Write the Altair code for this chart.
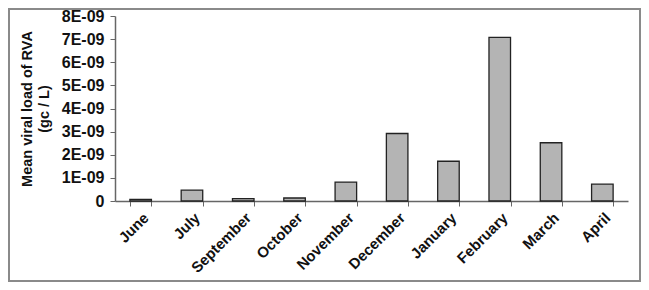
import altair as alt
import pandas as pd

months = ["June", "July", "September", "October", "November", "December",
          "January", "February", "March", "April"]
load_e9 = [0.07, 0.47, 0.10, 0.13, 0.82, 2.92, 1.72, 7.08, 2.52, 0.73]
y_ticks_e9 = [0, 1, 2, 3, 4, 5, 6, 7, 8]

df = pd.DataFrame({"month": months, "load": [v * 1e-9 for v in load_e9]})

FONT = "Liberation Sans"

bars = alt.Chart(df).mark_bar(
    fill="#b4b4b4", stroke="#222222", strokeWidth=1.3
).encode(
    x=alt.X("month:N", sort=months,
            scale=alt.Scale(paddingInner=0.58, paddingOuter=0.29),
            axis=alt.Axis(title=None, labelAngle=-45, labelAlign="right",
                          labelBaseline="top", labelFont=FONT, labelFontSize=15,
                          labelFontWeight="bold", labelColor="#111111",
                          tickBand="extent", tickSize=5, tickColor="#666666",
                          domainColor="#666666", domainWidth=1.5, labelPadding=4)),
    y=alt.Y("load:Q",
            scale=alt.Scale(domain=[0, 8e-9], nice=False),
            axis=alt.Axis(title=["Mean viral load of RVA", "(gc / L)"],
                          values=[v * 1e-9 for v in y_ticks_e9],
                          labelExpr="datum.value == 0 ? '0' : round(datum.value*1e9) + 'E-09'",
                          labelFont=FONT, labelFontSize=16, labelFontWeight="bold",
                          labelColor="#111111", titleFont=FONT, titleFontSize=14.5,
                          titleFontWeight="bold", titleColor="#111111",
                          titleLineHeight=17, titlePadding=10,
                          grid=False, tickSize=5, tickColor="#666666",
                          domainColor="#666666", domainWidth=1.5, labelPadding=6)),
)

frame = alt.Chart(pd.DataFrame({"f": [0]})).mark_rect(
    fill=None, stroke="#8a8a8a", strokeWidth=2,
    xOffset=-106, x2Offset=12, yOffset=-7, y2Offset=80,
).encode(
    x=alt.value(0), x2=alt.value("width"),
    y=alt.value(0), y2=alt.value("height"),
)

chart = alt.layer(bars, frame).properties(
    width=633, height=274,
    autosize=alt.AutoSizeParams(type="fit", contains="padding"),
    padding=0,
).configure_view(stroke=None)

chart.save("out.html", embed_options={"renderer": "svg", "actions": False})
